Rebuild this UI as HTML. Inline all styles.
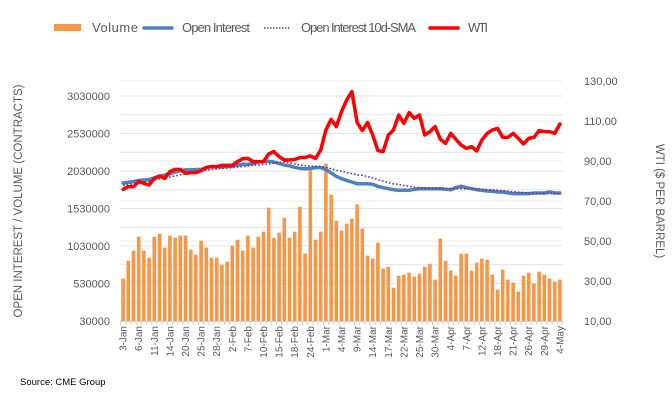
<!DOCTYPE html>
<html><head><meta charset="utf-8"><style>
html,body{margin:0;padding:0;background:#fff;}
svg{display:block;font-family:"Liberation Sans",sans-serif;}
</style></head><body>
<svg id="chart" width="672" height="406" viewBox="0 0 672 406">
<g id="grid"></g>
<g id="bars"></g>
<g id="lines"></g>
<g id="axes"></g>
<g fill="#595959" font-size="13">
  <rect x="54" y="24" width="27" height="7" fill="#F79646"/>
  <text x="92" y="32" textLength="46">Volume</text>
  <line x1="144" y1="28" x2="172" y2="28" stroke="#4F81BD" stroke-width="3.5" stroke-linecap="round"/>
  <text x="182" y="32" textLength="68">Open Interest</text>
  <line x1="264" y1="28" x2="290" y2="28" stroke="#7030A0" stroke-width="1.5" stroke-dasharray="1.5,1.5"/>
  <text x="301" y="32" textLength="115">Open Interest 10d-SMA</text>
  <line x1="430" y1="28" x2="458" y2="28" stroke="#FF0000" stroke-width="3.5" stroke-linecap="round"/>
  <text x="468" y="32" textLength="20">WTI</text>
</g>
<text x="0" y="0" transform="translate(22,201) rotate(-90)" text-anchor="middle" font-size="11.5" fill="#595959">OPEN INTEREST / VOLUME (CONTRACTS)</text>
<text x="0" y="0" transform="translate(656,201) rotate(90)" text-anchor="middle" font-size="11.5" fill="#595959">WTI ($ PER BARREL)</text>
<text x="20" y="385" font-size="9.5" fill="#000">Source: CME Group</text>
</svg>
<script>
const categories=["3-Jan","","","6-Jan","","","11-Jan","","","14-Jan","","","20-Jan","","","25-Jan","","","28-Jan","","","2-Feb","","","7-Feb","","","10-Feb","","","15-Feb","","","18-Feb","","","24-Feb","","","1-Mar","","","4-Mar","","","9-Mar","","","14-Mar","","","17-Mar","","","22-Mar","","","25-Mar","","","30-Mar","","","4-Apr","","","7-Apr","","","12-Apr","","","18-Apr","","","21-Apr","","","26-Apr","","","29-Apr","","","4-May"];
const volume=[594,834,968,1154,968,874,1154,1194,1008,1168,1141,1168,1168,981,914,1101,1008,874,874,781,821,1034,1114,968,1168,1008,1154,1221,1541,1141,1208,1408,1141,1221,1554,928,2048,1114,1221,2128,1714,1368,1234,1328,1394,1586,1261,901,861,1074,728,754,474,634,648,674,621,661,754,794,581,1128,834,701,634,928,928,701,808,861,848,648,448,714,581,541,421,634,674,528,688,648,594,554,581].map(v=>v*1000);
const openInterest=[1870,1880,1890,1905,1910,1915,1940,1960,1975,1995,2015,2035,2045,2045,2050,2050,2075,2090,2085,2085,2090,2095,2110,2120,2120,2130,2150,2160,2160,2150,2130,2110,2100,2080,2065,2060,2065,2075,2075,2050,2005,1960,1928,1905,1883,1861,1861,1861,1852,1826,1808,1794,1781,1772,1772,1772,1786,1794,1794,1794,1794,1794,1786,1781,1808,1826,1808,1794,1781,1772,1763,1759,1750,1750,1737,1728,1728,1728,1728,1737,1737,1737,1750,1737,1737].map(v=>v*1000);
const oiSMA=[1840,1850,1860,1870,1880,1895,1910,1925,1940,1950,1965,1980,1995,2010,2020,2030,2040,2050,2058,2066,2070,2074,2082,2090,2098,2106,2112,2119,2126,2134,2142,2150,2140,2125,2110,2100,2095,2092,2090,2080,2060,2039,2025,2010,1995,1980,1972,1955,1935,1914,1895,1875,1860,1852,1838,1824,1812,1808,1800,1796,1794,1794,1794,1794,1794,1794,1794,1794,1790,1786,1782,1778,1772,1766,1760,1754,1748,1742,1738,1736,1734,1732,1730,1730,1730].map(v=>v*1000);
const wti=[75.8,77.2,77.2,79.7,78.8,78,81.3,82.5,81.3,84.7,85.8,85.8,83.8,84.2,84.2,85.2,86.8,87.2,87.2,87.8,87.8,87.8,89.7,91.2,91.3,89.7,89.7,89.7,93.5,94.7,92.2,90.5,90.5,90.8,91.7,91.8,92.5,91.3,95.5,105.5,110.8,107.2,114.7,120.5,124.7,109.2,105.2,109.2,103,95.2,94.7,103,105.5,113,108.8,114.2,111.3,113,103,104.7,107.2,100.8,98.8,103.8,100.8,98,96.3,97.2,95,100.5,103.8,105.5,106.3,101.8,101.8,103.8,101.3,98.5,101.3,101.8,105.2,104.7,104.7,103.8,108.5];
const leftTicks=[30000,530000,1030000,1530000,2030000,2530000,3030000];
const rightTicks=[10,30,50,70,90,110,130];

const NS="http://www.w3.org/2000/svg";
const X0=120.5,X1=562.5,YB=321,YT=81;
const band=(X1-X0)/categories.length;
function xc(i){return X0+band*(i+0.5);}
function yL(v){return YB-(v-30000)/3200000*(YB-YT);}
function yR(v){return YB-(v-10)/120*(YB-YT);}
function mk(tag,attrs,parent){const e=document.createElementNS(NS,tag);for(const k in attrs)e.setAttribute(k,attrs[k]);parent.appendChild(e);return e;}
const grid=document.getElementById('grid'),bars=document.getElementById('bars'),lines=document.getElementById('lines'),axes=document.getElementById('axes');
// gridlines
for(let v=30000;v<=3230000;v+=250000){const l=mk('line',{x1:X0,x2:X1,y1:yL(v),y2:yL(v),stroke:'#e4e4e4','stroke-width':1},grid);

}
for(const v of rightTicks){const l=mk('line',{x1:X0,x2:X1,y1:yR(v),y2:yR(v),stroke:'#ececec','stroke-width':1},grid);

}
// bars
volume.forEach((v,i)=>{const r=mk('rect',{x:xc(i)-1.8,width:3.6,y:yL(v),height:YB-yL(v),fill:'#F79646'},bars);

});
function path(arr,yf){return arr.map((v,i)=>(i?'L':'M')+xc(i).toFixed(1)+','+yf(v).toFixed(1)).join(' ');}
const p1=mk('path',{d:path(openInterest,yL),fill:'none',stroke:'#4F81BD','stroke-width':3.5,'stroke-linejoin':'round','stroke-linecap':'round'},lines);


const p2=mk('path',{d:path(oiSMA,yL),fill:'none',stroke:'#7030A0','stroke-width':1.6,'stroke-dasharray':'1.6,2'},lines);


const p3=mk('path',{d:path(wti,yR),fill:'none',stroke:'#FF0000','stroke-width':3.5,'stroke-linejoin':'round','stroke-linecap':'round'},lines);


// x axis
const ax=mk('line',{x1:X0,x2:X1,y1:YB+0.5,y2:YB+0.5,stroke:'#d0d0d0'},axes);


for(let i=0;i<=categories.length;i++){const t=mk('line',{x1:X0+band*i,x2:X0+band*i,y1:YB,y2:YB+4,stroke:'#d0d0d0'},axes);

}
categories.forEach((c,i)=>{if(!c)return;const t=mk('text',{transform:`translate(${xc(i)+3.5},${YB+5}) rotate(-90)`,'text-anchor':'end','font-size':10,fill:'#595959'},axes);t.textContent=c;

});
leftTicks.forEach(v=>{const t=mk('text',{x:110,y:yL(v)+4,'text-anchor':'end','font-size':11,fill:'#595959'},axes);t.textContent=String(v);

});
rightTicks.forEach(v=>{const t=mk('text',{x:584,y:yR(v)+4,'font-size':11,fill:'#595959'},axes);t.textContent=v+',00';

});
</script>
</body></html>
